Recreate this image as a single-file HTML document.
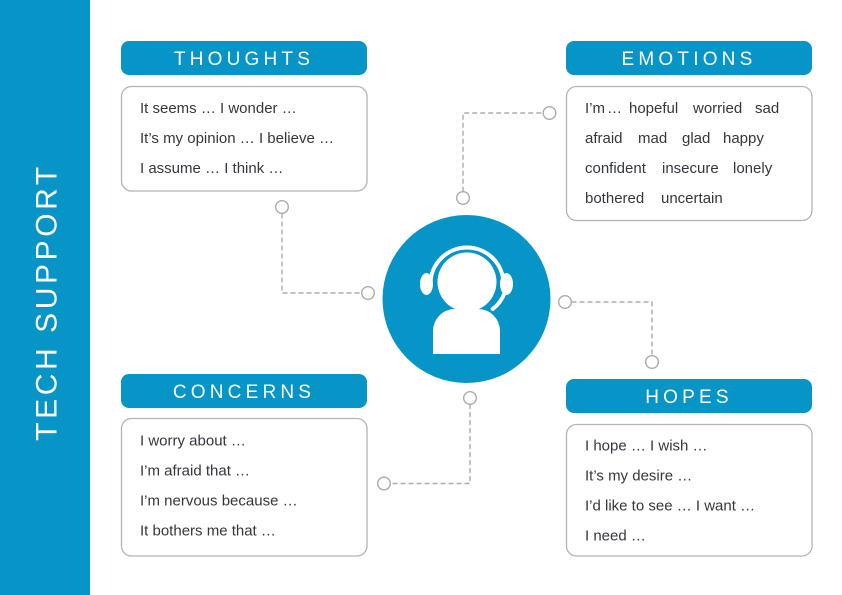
<!DOCTYPE html>
<html>
<head>
<meta charset="utf-8">
<style>
html,body{margin:0;padding:0;background:#fff;}
body{width:842px;height:595px;overflow:hidden;position:relative;}
svg{position:absolute;left:0;top:0;}
.hd{font-family:"Liberation Sans",sans-serif;font-size:19px;fill:#fff;letter-spacing:4.2px;}
.tx{font-family:"Liberation Sans",sans-serif;font-size:15px;fill:#33373d;}
</style>
</head>
<body>
<svg width="842" height="595" viewBox="0 0 842 595" xmlns="http://www.w3.org/2000/svg">
  <!-- sidebar -->
  <rect x="0" y="0" width="90" height="595" fill="#0795c8"/>
  <text transform="translate(46,302) rotate(-90)" x="0" y="10.7" text-anchor="middle" font-family="Liberation Sans, sans-serif" font-size="30" fill="#fff" letter-spacing="3.6">TECH SUPPORT</text>

  <!-- connectors -->
  <g fill="none" stroke="#ababab" stroke-width="1.4">
    <path d="M282 213.5 V293 H361.5" stroke-dasharray="5 3"/>
    <circle cx="282" cy="207" r="6.3" fill="#fff"/>
    <circle cx="368" cy="293" r="6.3" fill="#fff"/>

    <path d="M463 191.7 V113 H543" stroke-dasharray="5 3"/>
    <circle cx="463" cy="198" r="6.3" fill="#fff"/>
    <circle cx="549.5" cy="113" r="6.3" fill="#fff"/>

    <path d="M571.5 302 H652 V355.5" stroke-dasharray="5 3"/>
    <circle cx="565" cy="302" r="6.3" fill="#fff"/>
    <circle cx="652" cy="362" r="6.3" fill="#fff"/>

    <path d="M470 404 V483.5 H390.5" stroke-dasharray="5 3"/>
    <circle cx="470" cy="398" r="6.3" fill="#fff"/>
    <circle cx="384" cy="483.5" r="6.3" fill="#fff"/>
  </g>

  <!-- center icon -->
  <circle cx="466.5" cy="299" r="84" fill="#0795c8"/>
  <g fill="#fff">
    <rect x="433" y="309" width="67" height="45" rx="22" ry="22"/>
    <rect x="433" y="330" width="67" height="24"/>
    <circle cx="467" cy="282" r="29.5"/>
    <ellipse cx="426.5" cy="284" rx="6.5" ry="11"/>
    <ellipse cx="506.5" cy="284" rx="6.5" ry="11"/>
  </g>
  <path d="M430.5 284 A36.5 36.5 0 0 1 503.5 284" fill="none" stroke="#fff" stroke-width="4"/>
  <path d="M505 292 Q501 303 492.7 309" fill="none" stroke="#fff" stroke-width="4" stroke-linecap="round"/>

  <!-- THOUGHTS -->
  <rect x="121" y="41" width="246" height="34" rx="8" fill="#0795c8"/>
  <text class="hd" x="244" y="65" text-anchor="middle">THOUGHTS</text>
  <rect x="121.5" y="86.5" width="245.5" height="104.5" rx="10" fill="#fff" stroke="#b3b3b3" stroke-width="1.3"/>
  <text class="tx" x="140" y="113">It seems …  I wonder …</text>
  <text class="tx" x="140" y="143">It’s my opinion …  I believe …</text>
  <text class="tx" x="140" y="173">I assume …  I think …</text>

  <!-- EMOTIONS -->
  <rect x="566" y="41" width="246" height="34" rx="8" fill="#0795c8"/>
  <text class="hd" x="689" y="65" text-anchor="middle">EMOTIONS</text>
  <rect x="566.5" y="86.5" width="245.5" height="134" rx="10" fill="#fff" stroke="#b3b3b3" stroke-width="1.3"/>
  <text class="tx" y="113"><tspan x="585">I’m</tspan><tspan x="607">…</tspan><tspan x="629">hopeful</tspan><tspan x="693">worried</tspan><tspan x="755">sad</tspan></text>
  <text class="tx" y="143"><tspan x="585">afraid</tspan><tspan x="638">mad</tspan><tspan x="682">glad</tspan><tspan x="723">happy</tspan></text>
  <text class="tx" y="173"><tspan x="585">confident</tspan><tspan x="662">insecure</tspan><tspan x="733">lonely</tspan></text>
  <text class="tx" y="203"><tspan x="585">bothered</tspan><tspan x="661">uncertain</tspan></text>

  <!-- CONCERNS -->
  <rect x="121" y="374" width="246" height="34" rx="8" fill="#0795c8"/>
  <text class="hd" x="244" y="398" text-anchor="middle">CONCERNS</text>
  <rect x="121.5" y="418.5" width="245.5" height="137.5" rx="10" fill="#fff" stroke="#b3b3b3" stroke-width="1.3"/>
  <text class="tx" x="140" y="445.5">I worry about …</text>
  <text class="tx" x="140" y="475.5">I’m afraid that …</text>
  <text class="tx" x="140" y="505.5">I’m nervous because …</text>
  <text class="tx" x="140" y="535.5">It bothers me that …</text>

  <!-- HOPES -->
  <rect x="566" y="379" width="246" height="34" rx="8" fill="#0795c8"/>
  <text class="hd" x="689" y="403" text-anchor="middle">HOPES</text>
  <rect x="566.5" y="424.5" width="245.5" height="131.5" rx="10" fill="#fff" stroke="#b3b3b3" stroke-width="1.3"/>
  <text class="tx" x="585" y="450.5">I hope …  I wish …</text>
  <text class="tx" x="585" y="480.5">It’s my desire …</text>
  <text class="tx" x="585" y="510.5">I’d like to see …  I want …</text>
  <text class="tx" x="585" y="540.5">I need …</text>
</svg>
</body>
</html>
